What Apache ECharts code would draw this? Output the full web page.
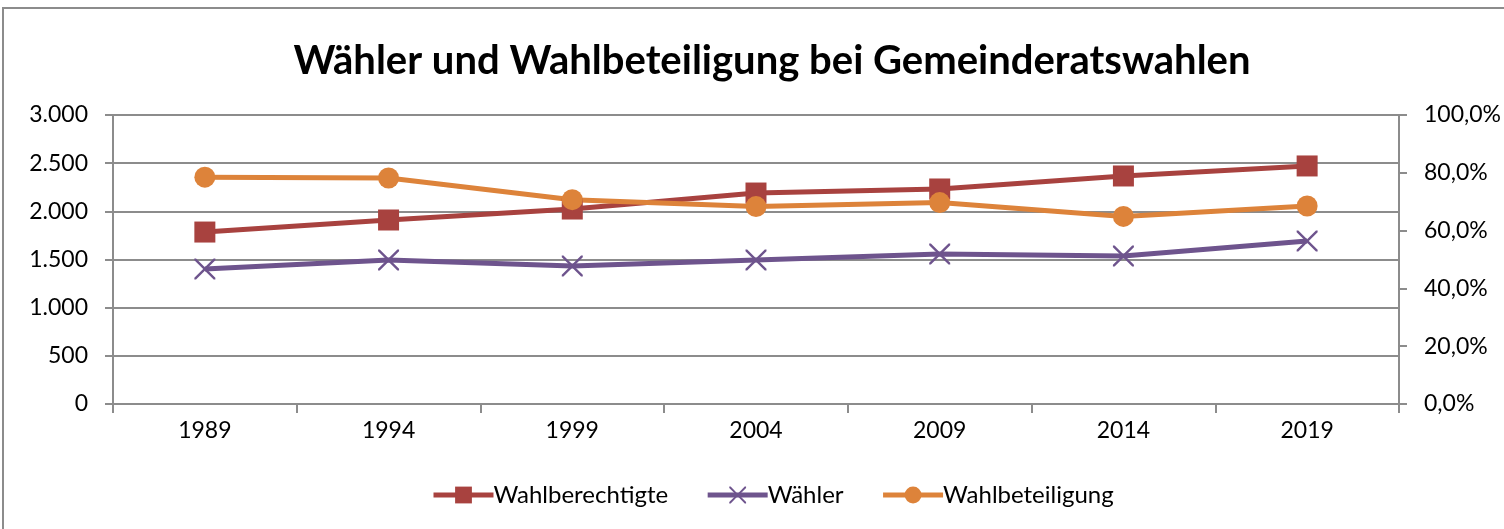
<!DOCTYPE html>
<html>
<head>
<meta charset="utf-8">
<script src="https://cdn.jsdelivr.net/npm/echarts@6/dist/echarts.min.js"></script>
<style>
  html, body { margin: 0; padding: 0; background: #fff; }
  #chart { width: 1504px; height: 529px; }
</style>
</head>
<body>
<div id="chart"></div>
<script>
// Werte
let jahre = ['1989', '1994', '1999', '2004', '2009', '2014', '2019'];
let wahlberechtigte = [1785, 1910, 2024, 2190, 2232, 2367, 2471];
let waehler = [1401, 1495, 1432, 1495, 1557, 1536, 1692];
let wahlbeteiligung = [0.785, 0.782, 0.707, 0.683, 0.697, 0.649, 0.685];

let fontName = 'Lato, "Open Sans", sans-serif';
let gridColor = '#8c8c8c';
// dünnes X als Symbol
let crossPath = 'path://M0,0 L1.6,0 L10,8.4 L18.4,0 L20,0 L20,1.6 L11.6,10 L20,18.4 L20,20 L18.4,20 L10,11.6 L1.6,20 L0,20 L0,18.4 L8.4,10 L0,1.6 Z';

function tausender(v) {
    return String(v).replace(/\B(?=(\d{3})+(?!\d))/g, '.');
}
function prozent(v) {
    return (v * 100).toFixed(1).replace('.', ',') + '%';
}

let chart = echarts.init(document.getElementById('chart'));
chart.setOption({
    animation: false,
    textStyle: { fontFamily: fontName },
    graphic: [{
        type: 'rect',
        shape: { x: 3, y: 8, width: 1600, height: 600 },
        style: { fill: 'none', stroke: '#8c8c8c', lineWidth: 2 },
        silent: true
    }],
    title: {
        text: 'Wähler und Wahlbeteiligung bei Gemeinderatswahlen',
        left: 767,
        top: 36,
        textAlign: 'center',
        textStyle: { fontFamily: fontName, fontWeight: 'bold', fontSize: 40, color: '#000' }
    },
    legend: {
        top: 478,
        left: 426,
        itemWidth: 60,
        itemHeight: 21,
        itemGap: 37,
        lineStyle: { width: 5 },
        textStyle: { fontFamily: fontName, fontSize: 24, color: '#000', padding: [0, 0, 0, -5] },
        data: ['Wahlberechtigte', 'Wähler', 'Wahlbeteiligung']
    },
    grid: { left: 113, right: 101, top: 115, bottom: 125 },
    xAxis: {
        type: 'category',
        data: jahre,
        boundaryGap: true,
        axisLine: { lineStyle: { color: gridColor, width: 2 } },
        axisTick: { show: true, length: 9, lineStyle: { color: gridColor, width: 2 } },
        axisLabel: { fontSize: 23, color: '#000', margin: 15 }
    },
    yAxis: [{
        type: 'value',
        min: 0, max: 3000, interval: 500,
        axisLine: { show: true, lineStyle: { color: gridColor, width: 2 } },
        axisTick: { show: true, length: 8, lineStyle: { color: gridColor, width: 2 } },
        splitLine: { lineStyle: { color: gridColor, width: 2 } },
        axisLabel: { fontSize: 23, color: '#000', margin: 25, formatter: tausender }
    }, {
        type: 'value',
        min: 0, max: 1, interval: 0.2,
        position: 'right',
        axisLine: { show: true, lineStyle: { color: gridColor, width: 2 } },
        axisTick: { show: true, length: 8, lineStyle: { color: gridColor, width: 2 } },
        splitLine: { show: false },
        axisLabel: { fontSize: 23, color: '#000', margin: 25, formatter: prozent }
    }],
    series: [{
        name: 'Wahlberechtigte',
        type: 'line',
        data: wahlberechtigte,
        symbol: 'rect',
        symbolSize: 21,
        lineStyle: { width: 5, color: '#a8423f' },
        itemStyle: { color: '#a8423f' }
    }, {
        name: 'Wähler',
        type: 'line',
        data: waehler,
        symbol: crossPath,
        symbolSize: 21,
        lineStyle: { width: 5, color: '#6e548d' },
        itemStyle: { color: '#6e548d' }
    }, {
        name: 'Wahlbeteiligung',
        type: 'line',
        yAxisIndex: 1,
        data: wahlbeteiligung,
        symbol: 'circle',
        symbolSize: 21,
        lineStyle: { width: 5, color: '#dd833a' },
        itemStyle: { color: '#dd833a' }
    }]
});
</script>
</body>
</html>
